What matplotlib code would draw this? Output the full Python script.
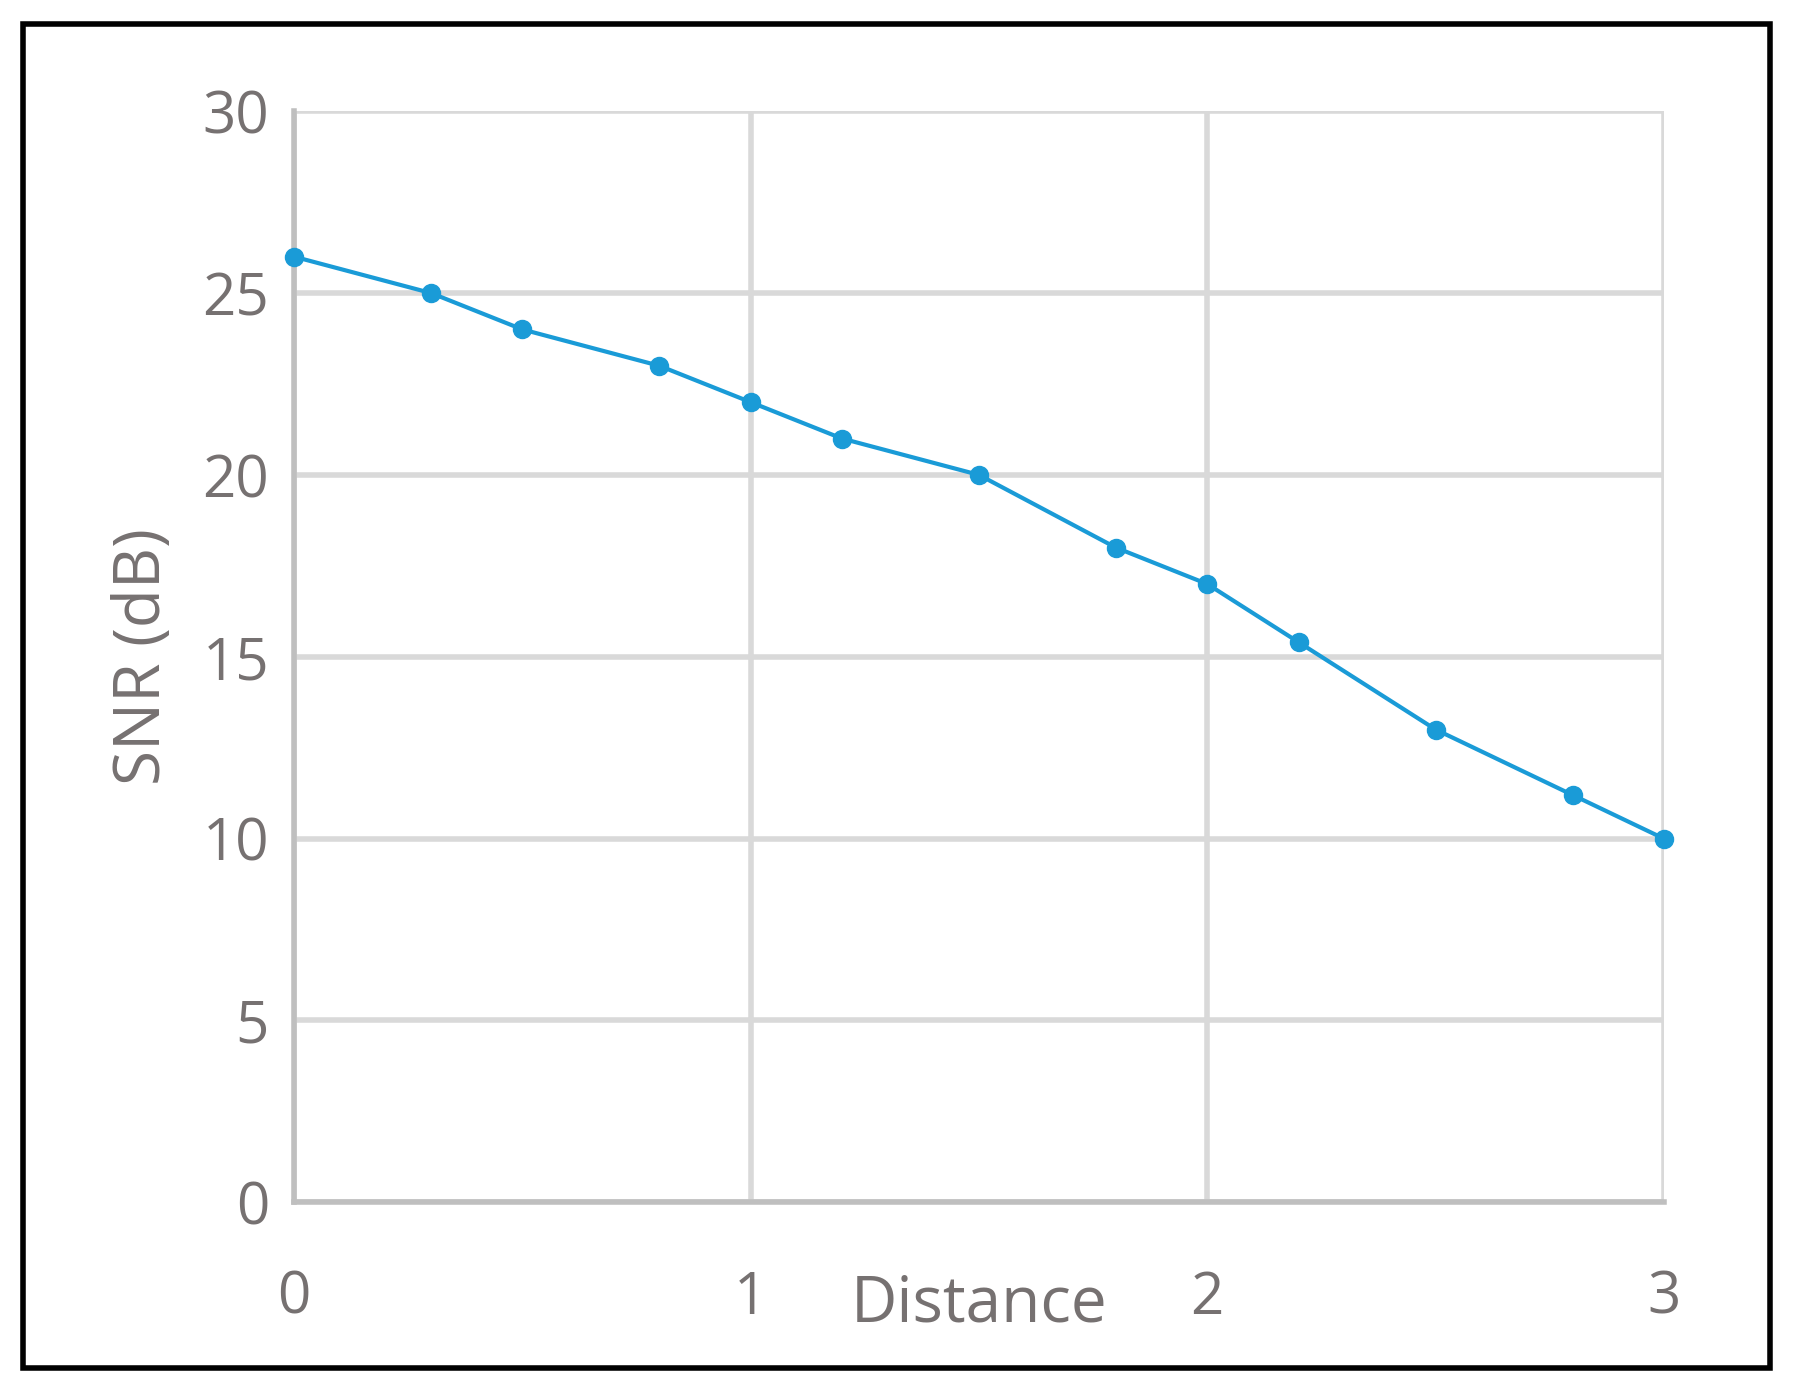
import matplotlib
matplotlib.use("Agg")
import matplotlib.pyplot as plt
from matplotlib.patches import Rectangle

distance = [0, 0.3, 0.5, 0.8, 1.0, 1.2, 1.5, 1.8, 2.0, 2.2, 2.5, 2.8, 3.0]
snr = [26, 25, 24, 23, 22, 21, 20, 18, 17, 15.4, 13, 11.2, 10]
xticks = [0, 1, 2, 3]
yticks = [0, 5, 10, 15, 20, 25, 30]

plt.rcParams['font.family'] = ['Open Sans', 'DejaVu Sans']
grey = '#767171'
fig = plt.figure(figsize=(17.93, 13.90), dpi=100)
fig.patches.append(Rectangle((0.013, 0.016), 0.974, 0.967, transform=fig.transFigure,
                             fill=False, edgecolor='black', linewidth=4))
ax = fig.add_axes([0.164, 0.135, 0.764, 0.785])
ax.plot(distance, snr, color='#1a9bd7', linewidth=3, marker='o', markersize=13,
        zorder=3, clip_on=False)
ax.set_xlim(0, 3)
ax.set_ylim(0, 30)
ax.set_xticks(xticks)
ax.set_yticks(yticks)
ax.grid(True, color='#d9d9d9', linewidth=4)
for s in ['top', 'right']:
    ax.spines[s].set_visible(False)
for s in ['left', 'bottom']:
    ax.spines[s].set_color('#bfbfbf')
    ax.spines[s].set_linewidth(4)
ax.tick_params(length=0, labelsize=42, labelcolor=grey, pad=18)
ax.tick_params(axis='x', pad=48)
ax.set_ylabel('SNR (dB)', fontsize=46, color=grey, labelpad=20)
ax.text(1.5, -2.8, 'Distance', fontsize=46, color=grey, ha='center', va='center')
fig.savefig('out.png', dpi=100)
